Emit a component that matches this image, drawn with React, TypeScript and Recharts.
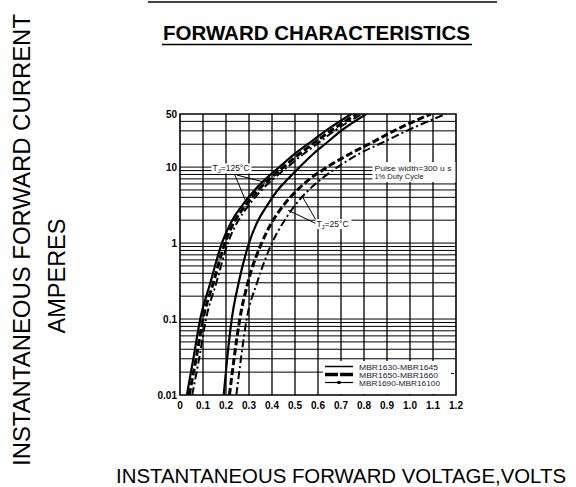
import React from 'react';
import { LineChart, Line, XAxis, YAxis, ReferenceLine, ReferenceArea, ReferenceDot } from 'recharts';

const FONT = '"Liberation Sans", Arial, Helvetica, sans-serif';

// axis ticks
const voltTicks = [0, 0.1, 0.2, 0.3, 0.4, 0.5, 0.6, 0.7, 0.8, 0.9, 1.0, 1.1, 1.2];
const currentTicks = [0.01, 0.1, 1, 10, 50];

// grid values
const voltGrid = [0.1, 0.2, 0.3, 0.4, 0.5, 0.6, 0.7, 0.8, 0.9, 1.0, 1.1];
const currentGrid = [
  0.02, 0.03, 0.04, 0.05, 0.06, 0.07, 0.08, 0.09, 0.1,
  0.2, 0.3, 0.4, 0.5, 0.6, 0.7, 0.8, 0.9, 1,
  2, 3, 4, 5, 6, 7, 8, 9, 10,
  20, 30, 40,
];

// legend / families
const familyNames = ['MBR1630-MBR1645', 'MBR1650-MBR1660', 'MBR1690-MBR16100'];

// current levels at which the curves were read (amperes)
const amps = [0.01, 0.03, 0.1, 0.3, 1, 2, 3, 5, 7, 10, 15, 20, 30, 50];

// forward voltage read at each current level (volts)
const tj125SolidV = [0.03, 0.058, 0.088, 0.132, 0.182, 0.227, 0.266, 0.325, 0.373, 0.432, 0.5, 0.555, 0.633, 0.745];
const tj125DashedV = [0.04, 0.07, 0.1, 0.145, 0.195, 0.24, 0.28, 0.34, 0.39, 0.45, 0.52, 0.575, 0.655, 0.77];
const tj125DashDotV = [0.053, 0.083, 0.113, 0.158, 0.208, 0.254, 0.294, 0.355, 0.406, 0.467, 0.538, 0.594, 0.672, 0.79];
const tj25SolidV = [0.19, 0.205, 0.225, 0.255, 0.3, 0.34, 0.375, 0.425, 0.47, 0.52, 0.58, 0.63, 0.7, 0.81];
const tj25DashedV = [0.215, 0.235, 0.26, 0.295, 0.355, 0.405, 0.445, 0.51, 0.565, 0.64, 0.74, 0.82, 0.93, 1.09];
const tj25DashDotV = [0.245, 0.265, 0.29, 0.335, 0.4, 0.455, 0.495, 0.56, 0.615, 0.685, 0.78, 0.865, 0.985, 1.155];

const toPoints = (volts: number[]) => volts.map((v, k) => ({ v, i: amps[k] }));

const familyStyles = [
  { strokeWidth: 2.2, dash: undefined as string | undefined },
  { strokeWidth: 3, dash: '7 3' },
  { strokeWidth: 2, dash: '8 3 2 3' },
];

const series = [
  { key: 'a125', data: toPoints(tj125SolidV), family: 0 },
  { key: 'b125', data: toPoints(tj125DashedV), family: 1 },
  { key: 'c125', data: toPoints(tj125DashDotV), family: 2 },
  { key: 'a25', data: toPoints(tj25SolidV), family: 0 },
  { key: 'b25', data: toPoints(tj25DashedV), family: 1 },
  { key: 'c25', data: toPoints(tj25DashDotV), family: 2 },
];

// annotation anchors (data space)
const tj125LabelAt = { v: 0.224, i: 9.6 };
const tj25LabelAt = { v: 0.667, i: 1.78 };
const pulseLabelAt = { v: 1.015, i: 8.6 };
const pointers = [
  [{ x: 0.239, y: 7.85 }, { x: 0.285, y: 3.6 }],
  [{ x: 0.248, y: 7.85 }, { x: 0.37, y: 6.3 }],
  [{ x: 0.596, y: 1.89 }, { x: 0.53, y: 4.2 }],
  [{ x: 0.596, y: 1.78 }, { x: 0.47, y: 2.7 }],
];

const TjLabel = ({ cx, cy, temp, w }: any) => (
  <g>
    <rect x={cx - w / 2} y={cy - 5} width={w} height={10} fill="#fff" />
    <text x={cx - w / 2 + 1} y={cy + 3} fontSize={8.5} fontFamily={FONT} fill="#111">
      T<tspan fontSize={6} dy={1.5}>J</tspan><tspan dy={-1.5}>{`=${temp}°C`}</tspan>
    </text>
  </g>
);

const PulseLabel = ({ cx, cy }: any) => (
  <g>
    <rect x={cx - 41} y={cy - 10} width={83} height={20} fill="#fff" />
    <text x={cx - 39} y={cy - 1} fontSize={7.5} fontFamily={FONT} fill="#222" textLength={77} lengthAdjust="spacingAndGlyphs">Pulse width=300 u s</text>
    <text x={cx - 39} y={cy + 6.5} fontSize={7.5} fontFamily={FONT} fill="#222">1% Duty Cycle</text>
  </g>
);

export default function App() {
  return (
    <div style={{ position: 'absolute', left: 0, top: 0, width: 576, height: 487, background: '#fff' }}>
      <div style={{ position: 'absolute', left: 0, top: 0 }}>
        <LineChart width={576} height={487} margin={{ top: 114, right: 120, left: 150, bottom: 62 }}>
          <XAxis
            type="number"
            dataKey="v"
            domain={[0, 1.2]}
            ticks={voltTicks}
            allowDataOverflow
            tickFormatter={(v: number) => (v === 0 ? '0' : v.toFixed(1))}
            tick={{ fill: '#000', fontSize: 10, fontWeight: 'bold', fontFamily: FONT }}
            tickLine={false}
            axisLine={false}
            tickSize={0}
            tickMargin={7}
            height={30}
            interval={0}
          />
          <YAxis
            type="number"
            dataKey="i"
            scale="log"
            domain={[0.01, 50]}
            ticks={currentTicks}
            allowDataOverflow
            tickFormatter={(v: number) => String(v)}
            tick={{ fill: '#000', fontSize: 10, fontWeight: 'bold', fontFamily: FONT }}
            tickLine={false}
            axisLine={false}
            tickSize={0}
            tickMargin={3}
            width={30}
            interval={0}
          />
          {currentGrid.map((g) => (
            <ReferenceLine key={'h' + g} y={g} stroke="#000" strokeWidth={1} />
          ))}
          {voltGrid.map((g) => (
            <ReferenceLine key={'v' + g} x={g} stroke="#000" strokeWidth={1.3} />
          ))}
          <ReferenceArea x1={0} x2={1.2} y1={0.01} y2={50} fill="none" stroke="#000" strokeWidth={1.6} />
          {series.map((s) => (
            <Line
              key={s.key}
              data={s.data}
              dataKey="i"
              type="monotone"
              stroke="#000"
              strokeWidth={familyStyles[s.family].strokeWidth}
              strokeDasharray={familyStyles[s.family].dash}
              dot={false}
              activeDot={false}
              isAnimationActive={false}
            />
          ))}
          {pointers.map((seg, k) => (
            <ReferenceLine key={'p' + k} segment={seg} stroke="#000" strokeWidth={1} ifOverflow="visible" />
          ))}
          <ReferenceDot x={tj125LabelAt.v} y={tj125LabelAt.i} r={0} shape={(p: any) => <TjLabel cx={p.cx} cy={p.cy} temp={125} w={40} />} />
          <ReferenceDot x={tj25LabelAt.v} y={tj25LabelAt.i} r={0} shape={(p: any) => <TjLabel cx={p.cx} cy={p.cy} temp={25} w={36} />} />
          <ReferenceDot x={pulseLabelAt.v} y={pulseLabelAt.i} r={0} shape={(p: any) => <PulseLabel cx={p.cx} cy={p.cy} />} />
        </LineChart>
      </div>
      <svg width={576} height={487} style={{ position: 'absolute', left: 0, top: 0, pointerEvents: 'none' }}>
        <line x1={148} y1={2} x2={497} y2={2} stroke="#000" strokeWidth={1.5} />
        <text x={316.5} y={40} textAnchor="middle" fontFamily={FONT} fontWeight="bold" fontSize={20} fill="#000" textLength={307} lengthAdjust="spacingAndGlyphs">
          FORWARD CHARACTERISTICS
        </text>
        <line x1={162} y1={44.5} x2={472} y2={44.5} stroke="#000" strokeWidth={1.5} />
        <text transform="translate(30,240) rotate(-90)" textAnchor="middle" fontFamily={FONT} fontSize={23.5} fill="#000" textLength={452} lengthAdjust="spacingAndGlyphs">
          INSTANTANEOUS FORWARD CURRENT
        </text>
        <text transform="translate(65,276) rotate(-90)" textAnchor="middle" fontFamily={FONT} fontSize={23.5} fill="#000">
          AMPERES
        </text>
        <text x={341} y={483} textAnchor="middle" fontFamily={FONT} fontSize={20.5} fill="#000" textLength={450} lengthAdjust="spacingAndGlyphs">
          INSTANTANEOUS FORWARD VOLTAGE,VOLTS
        </text>
        {/* legend */}
        <rect x={323} y={361} width={132} height={33} fill="#fff" />
        <line x1={325} y1={366.5} x2={353} y2={366.5} stroke="#000" strokeWidth={1.5} />
        <line x1={325} y1={374.5} x2={353} y2={374.5} stroke="#000" strokeWidth={3.5} strokeDasharray="13 2" />
        <line x1={325} y1={382.5} x2={353} y2={382.5} stroke="#000" strokeWidth={1.2} />
        <rect x={337.5} y={381} width={3} height={3} fill="#000" />
        {familyNames.map((n, k) => (
          <text key={n} x={359} y={369.5 + k * 8} fontFamily={FONT} fontSize={7} fill="#223" textLength={k === 2 ? 81 : 79} lengthAdjust="spacingAndGlyphs">
            {n}
          </text>
        ))}
        <line x1={451} y1={373.5} x2={454} y2={373.5} stroke="#000" strokeWidth={1} />
      </svg>
    </div>
  );
}
